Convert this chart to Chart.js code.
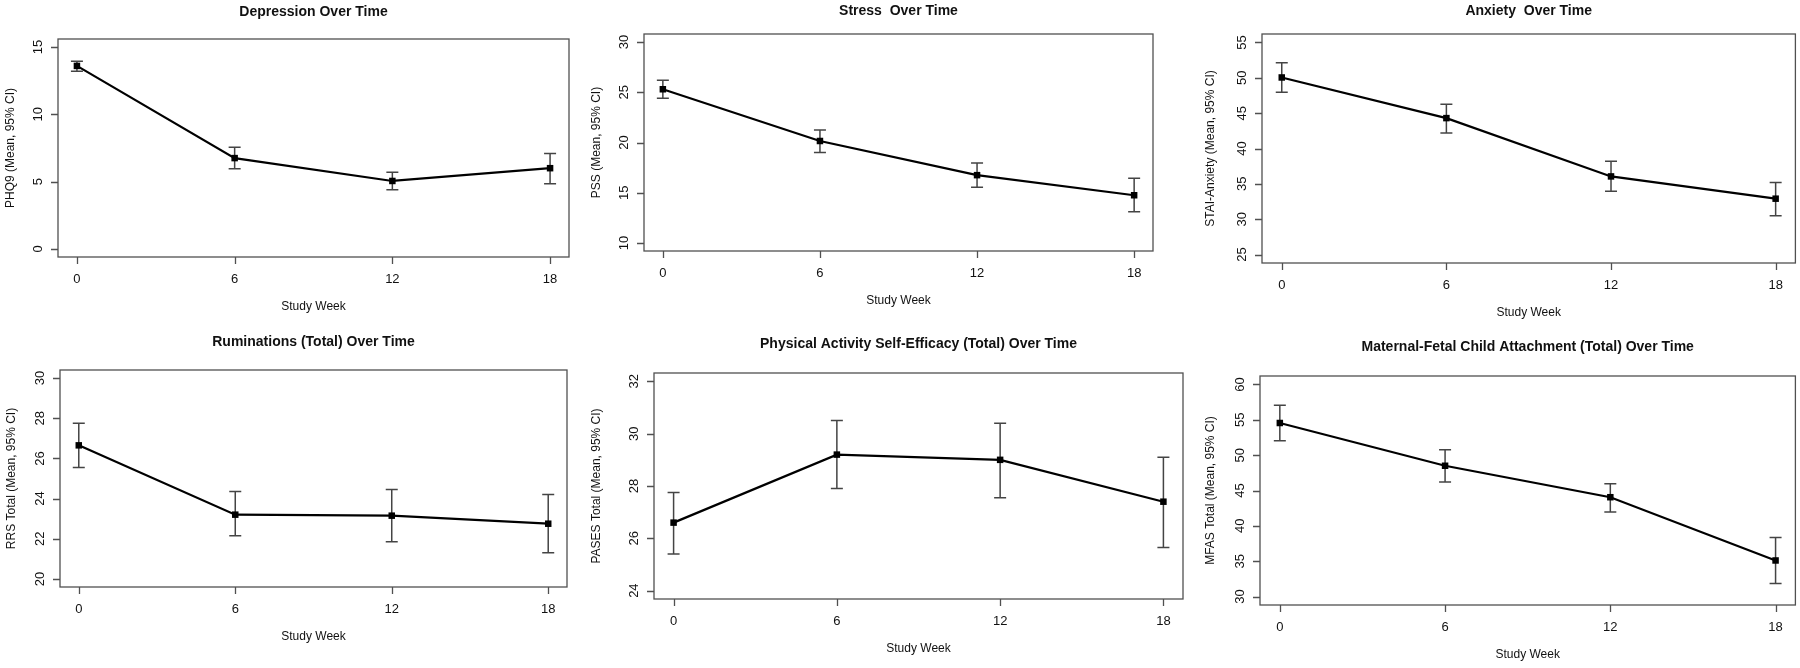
<!DOCTYPE html>
<html>
<head>
<meta charset="utf-8">
<script src="https://cdn.jsdelivr.net/npm/chart.js@4.4.1/dist/chart.umd.min.js"></script>
<style>
  body { margin: 0; background: #fff; }
  #wrap { position: relative; width: 1800px; height: 668px; overflow: hidden; }
  #wrap canvas { position: absolute; }
</style>
</head>
<body>
<div id="wrap"></div>
<script>
// weeks on the x axis
const weeks = [0, 6, 12, 18];
const weekTicks = [0, 6, 12, 18];

// means and 95% CI bounds
const phqMean = [13.6, 6.75, 5.05, 6.0];
const phqLower = [13.2, 5.95, 4.4, 4.85];
const phqUpper = [13.95, 7.55, 5.7, 7.1];
const phqTicks = [0, 5, 10, 15];

const pssMean = [25.3, 20.15, 16.75, 14.75];
const pssLower = [24.4, 19.0, 15.55, 13.1];
const pssUpper = [26.2, 21.25, 17.95, 16.45];
const pssTicks = [10, 15, 20, 25, 30];

const staiMean = [50.05, 44.3, 36.05, 32.9];
const staiLower = [47.95, 42.2, 33.95, 30.5];
const staiUpper = [52.15, 46.25, 38.2, 35.2];
const staiTicks = [25, 30, 35, 40, 45, 50, 55];

const rrsMean = [26.65, 23.2, 23.15, 22.75];
const rrsLower = [25.55, 22.15, 21.85, 21.3];
const rrsUpper = [27.75, 24.35, 24.45, 24.2];
const rrsTicks = [20, 22, 24, 26, 28, 30];

const pasesMean = [26.6, 29.2, 29.0, 27.4];
const pasesLower = [25.4, 27.9, 27.55, 25.65];
const pasesUpper = [27.75, 30.5, 30.4, 29.1];
const pasesTicks = [24, 26, 28, 30, 32];

const mfasMean = [54.55, 48.5, 44.05, 35.1];
const mfasLower = [52.05, 46.2, 41.95, 31.85];
const mfasUpper = [57.05, 50.75, 45.95, 38.35];
const mfasTicks = [30, 35, 40, 45, 50, 55, 60];

const panels = [
  { title: 'Depression Over Time', ylab: 'PHQ9 (Mean, 95% CI)', mean: phqMean, lower: phqLower, upper: phqUpper, ticks: phqTicks,
    left: 0, top: 0, w: 590, box: [58, 39, 569, 257], titleGap: 27, ylabGap: 47 },
  { title: 'Stress  Over Time', ylab: 'PSS (Mean, 95% CI)', mean: pssMean, lower: pssLower, upper: pssUpper, ticks: pssTicks,
    left: 590, top: 0, w: 600, box: [54, 34, 563, 251], titleGap: 23, ylabGap: 47 },
  { title: 'Anxiety  Over Time', ylab: 'STAI-Anxiety (Mean, 95% CI)', mean: staiMean, lower: staiLower, upper: staiUpper, ticks: staiTicks,
    left: 1190, top: 0, w: 610, box: [72, 34, 608, 263], titleGap: 23, ylabGap: 51 },
  { title: 'Ruminations (Total) Over Time', ylab: 'RRS Total (Mean, 95% CI)', mean: rrsMean, lower: rrsLower, upper: rrsUpper, ticks: rrsTicks,
    left: 0, top: 334, w: 590, box: [60, 36, 567, 253], titleGap: 28, ylabGap: 48 },
  { title: 'Physical Activity Self-Efficacy (Total) Over Time', ylab: 'PASES Total (Mean, 95% CI)', mean: pasesMean, lower: pasesLower, upper: pasesUpper, ticks: pasesTicks,
    left: 590, top: 334, w: 600, box: [64, 39, 593, 265], titleGap: 29, ylabGap: 57 },
  { title: 'Maternal-Fetal Child Attachment (Total) Over Time', ylab: 'MFAS Total (Mean, 95% CI)', mean: mfasMean, lower: mfasLower, upper: mfasUpper, ticks: mfasTicks,
    left: 1190, top: 334, w: 610, box: [70, 42, 606, 271], titleGap: 29, ylabGap: 49 }
];

const FONT = '"Liberation Sans", Arial, sans-serif';
const AXIS = '#505050';

// draws the R-style frame, ticks, labels and CI whiskers
const rPlot = {
  id: 'rPlot',
  beforeDatasetsDraw(chart, args, opts) {
    const ctx = chart.ctx;
    const xs = chart.scales.x, ys = chart.scales.y;
    ctx.save();
    // whiskers
    ctx.strokeStyle = '#444';
    ctx.lineWidth = 1.5;
    weeks.forEach((wk, i) => {
      const px = xs.getPixelForValue(wk);
      const lo = ys.getPixelForValue(opts.lower[i]);
      const hi = ys.getPixelForValue(opts.upper[i]);
      ctx.beginPath();
      ctx.moveTo(px, lo); ctx.lineTo(px, hi);
      ctx.moveTo(px - 6, lo); ctx.lineTo(px + 6, lo);
      ctx.moveTo(px - 6, hi); ctx.lineTo(px + 6, hi);
      ctx.stroke();
    });
    ctx.restore();
  },
  afterDraw(chart, args, opts) {
    const ctx = chart.ctx;
    const a = chart.chartArea;
    const xs = chart.scales.x, ys = chart.scales.y;
    ctx.save();
    ctx.strokeStyle = AXIS;
    ctx.lineWidth = 1.3;
    ctx.strokeRect(a.left, a.top, a.right - a.left, a.bottom - a.top);

    ctx.fillStyle = '#111';
    ctx.beginPath();
    weekTicks.forEach(t => {
      const px = Math.round(xs.getPixelForValue(t)) + 0.5;
      ctx.moveTo(px, a.bottom); ctx.lineTo(px, a.bottom + 7);
    });
    opts.ticks.forEach(t => {
      const py = Math.round(ys.getPixelForValue(t)) + 0.5;
      ctx.moveTo(a.left, py); ctx.lineTo(a.left - 7, py);
    });
    ctx.stroke();

    ctx.font = '13px ' + FONT;
    ctx.textAlign = 'center';
    ctx.textBaseline = 'middle';
    weekTicks.forEach(t => {
      ctx.fillText(String(t), xs.getPixelForValue(t), a.bottom + 22);
    });
    opts.ticks.forEach(t => {
      ctx.save();
      ctx.translate(a.left - 20, ys.getPixelForValue(t));
      ctx.rotate(-Math.PI / 2);
      ctx.fillText(String(t), 0, 0);
      ctx.restore();
    });

    const cx = (a.left + a.right) / 2;
    ctx.font = '12px ' + FONT;
    ctx.fillText('Study Week', cx, a.bottom + 50);

    ctx.save();
    ctx.font = '12px ' + FONT;
    ctx.translate(a.left - opts.ylabGap, (a.top + a.bottom) / 2);
    ctx.rotate(-Math.PI / 2);
    ctx.fillText(opts.ylab, 0, 0);
    ctx.restore();

    ctx.font = 'bold 14px ' + FONT;
    ctx.fillText(opts.title, cx, a.top - opts.titleGap);
    ctx.restore();
  }
};

const wrap = document.getElementById('wrap');

panels.forEach(p => {
  const h = 334;
  const canvas = document.createElement('canvas');
  canvas.width = p.w;
  canvas.height = h;
  canvas.style.left = p.left + 'px';
  canvas.style.top = p.top + 'px';
  canvas.style.width = p.w + 'px';
  canvas.style.height = h + 'px';
  wrap.appendChild(canvas);

  const lo = p.ticks[0], hi = p.ticks[p.ticks.length - 1];
  const pad = (hi - lo) * 0.04;

  new Chart(canvas.getContext('2d'), {
    type: 'line',
    data: {
      datasets: [{
        data: weeks.map((wk, i) => ({ x: wk, y: p.mean[i] })),
        borderColor: '#000',
        borderWidth: 2.2,
        pointStyle: 'rect',
        pointRadius: 4.6,
        pointBackgroundColor: '#000',
        pointBorderColor: '#000',
        pointBorderWidth: 0,
        tension: 0,
        clip: false
      }]
    },
    options: {
      responsive: false,
      animation: false,
      devicePixelRatio: 1,
      layout: { padding: { left: p.box[0], top: p.box[1], right: p.w - p.box[2], bottom: h - p.box[3] } },
      scales: {
        x: { type: 'linear', min: -0.72, max: 18.72, display: false },
        y: { type: 'linear', min: lo - pad, max: hi + pad, display: false }
      },
      plugins: {
        legend: { display: false },
        tooltip: { enabled: false },
        rPlot: { title: p.title, ylab: p.ylab, ticks: p.ticks, lower: p.lower, upper: p.upper, ylabGap: p.ylabGap, titleGap: p.titleGap }
      }
    },
    plugins: [rPlot]
  });
});
</script>
</body>
</html>
